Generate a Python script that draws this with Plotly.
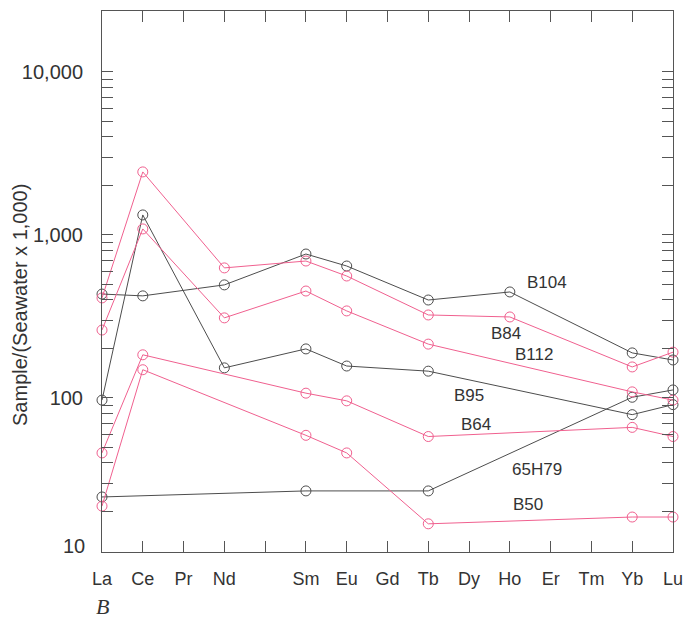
import plotly.graph_objects as go
import math

# Element positions along the x axis (Pm is an unlabeled gap)
elements = ["La", "Ce", "Pr", "Nd", "Pm", "Sm", "Eu", "Gd", "Tb", "Dy", "Ho", "Er", "Tm", "Yb", "Lu"]
tick_labels = ["La", "Ce", "Pr", "Nd", "", "Sm", "Eu", "Gd", "Tb", "Dy", "Ho", "Er", "Tm", "Yb", "Lu"]

# Series: element list and values (Sample/(Seawater x 1,000))
b104_el = ["La", "Ce", "Nd", "Sm", "Eu", "Tb", "Ho", "Yb", "Lu"]
b104_val = [434, 423, 494, 764, 645, 399, 447, 189, 171]

b95_el = ["La", "Ce", "Nd", "Sm", "Eu", "Tb", "Yb", "Lu"]
b95_val = [97, 1327, 153, 200, 157, 146, 79, 91]

h65h79_el = ["La", "Sm", "Tb", "Yb", "Lu"]
h65h79_val = [24.7, 26.9, 26.9, 101, 112]

b84_el = ["La", "Ce", "Nd", "Sm", "Eu", "Tb", "Ho", "Yb", "Lu"]
b84_val = [411, 2437, 628, 692, 560, 323, 314, 155, 191]

b112_el = ["La", "Ce", "Nd", "Sm", "Eu", "Tb", "Yb", "Lu"]
b112_val = [261, 1089, 310, 453, 342, 214, 109, 97]

b64_el = ["La", "Ce", "Sm", "Eu", "Tb", "Yb", "Lu"]
b64_val = [46, 184, 107, 96, 58, 66, 58]

b50_el = ["La", "Ce", "Sm", "Eu", "Tb", "Yb", "Lu"]
b50_val = [21.7, 149, 59, 46, 16.9, 18.6, 18.6]

labels = ["B104", "B84", "B112", "B95", "B64", "65H79", "B50"]
label_x = [10.91, 9.90, 10.60, 9.00, 9.17, 10.67, 10.44]
label_y = [514, 247, 186, 104, 69, 36.6, 22.1]

BLACK = "#4d4d4d"
PINK = "#f0608f"

series = [
    (b104_el, b104_val, BLACK),
    (b95_el, b95_val, BLACK),
    (h65h79_el, h65h79_val, BLACK),
    (b84_el, b84_val, PINK),
    (b112_el, b112_val, PINK),
    (b64_el, b64_val, PINK),
    (b50_el, b50_val, PINK),
]

fig = go.Figure()
for els, vals, col in series:
    fig.add_trace(go.Scatter(
        x=[elements.index(e) for e in els], y=vals,
        mode="lines+markers",
        line=dict(color=col, width=1),
        marker=dict(symbol="circle-open", size=10, color=col, line=dict(width=1, color=col)),
        cliponaxis=False, showlegend=False,
    ))

for t, lx, ly in zip(labels, label_x, label_y):
    fig.add_annotation(x=lx, y=math.log10(ly), xref="x", yref="y", text=t, showarrow=False,
                       font=dict(family="Liberation Sans, Arial", size=17, color="#333333"))

minor_vals = [m * 10 ** d for d in (1, 2, 3) for m in range(2, 10)]

fig.update_layout(
    width=694, height=621,
    margin=dict(l=102, r=21, t=11, b=69),
    paper_bgcolor="white", plot_bgcolor="white",
    font=dict(family="Liberation Sans, Arial", color="#333333"),
    xaxis=dict(
        range=[0, 14], tickmode="array", tickvals=list(range(15)), ticktext=tick_labels,
        ticks="inside", ticklen=11, tickcolor="#555555", tickwidth=1,
        showline=True, linecolor="#555555", linewidth=1, mirror="allticks",
        showgrid=False, zeroline=False, automargin=False,
        tickfont=dict(family="Liberation Sans Narrow, Liberation Sans, Arial", size=18, color="#333333"),
        ticklabelstandoff=10,
    ),
    yaxis=dict(
        type="log", range=[1.055, 4.374],
        tickmode="array", tickvals=[100, 1000, 10000], ticktext=["100", "1,000", "10,000"],
        ticks="inside", ticklen=11, tickcolor="#555555", tickwidth=1,
        minor=dict(tickmode="array", tickvals=minor_vals, ticks="inside", ticklen=11,
                   tickcolor="#555555", showgrid=False),
        showline=True, linecolor="#555555", linewidth=1, mirror="allticks",
        showgrid=False, zeroline=False, automargin=False,
        tickfont=dict(family="Liberation Sans, Arial", size=20, color="#333333"),
        ticklabelstandoff=14,
    ),
)

# y-axis title
fig.add_annotation(x=0, y=0.4566, xref="paper", yref="paper", text="Sample/(Seawater x 1,000)",
                   showarrow=False, textangle=-90, xanchor="center", yanchor="middle", xshift=-82,
                   font=dict(family="Liberation Sans, Arial", size=20, color="#333333"))
fig.add_annotation(x=0, y=0, xref="paper", yref="paper", text="10", showarrow=False,
                   xanchor="right", yanchor="middle", xshift=-15, yshift=6,
                   font=dict(family="Liberation Sans, Arial", size=20, color="#333333"))
fig.add_annotation(x=0, y=-0.1, xref="paper", yref="paper", text="<i>B</i>", showarrow=False,
                   xanchor="center", yanchor="middle",
                   font=dict(family="Liberation Serif, Times New Roman", size=22, color="#333333"))

fig.write_html("out.html", config={"displayModeBar": False},
               post_script="document.body.style.margin='0';document.body.style.overflow='hidden';")
